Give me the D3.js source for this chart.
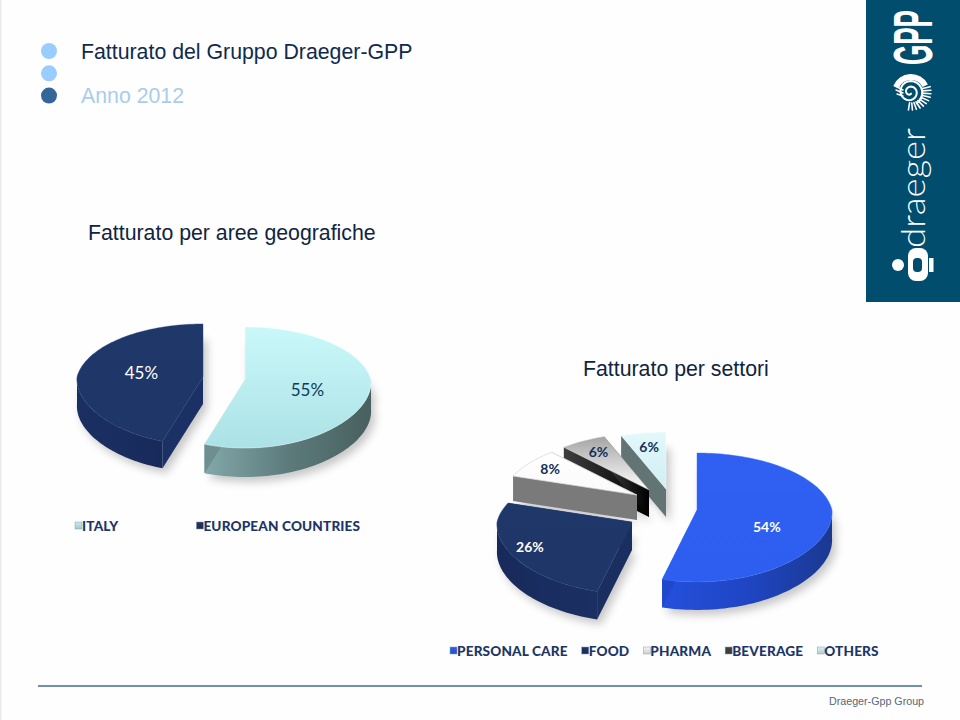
<!DOCTYPE html>
<html>
<head>
<meta charset="utf-8">
<script src="https://cdn.jsdelivr.net/npm/d3@7"></script>
<style>
  body { margin: 0; background: #fff; }
  text { font-family: "Liberation Sans", Arial, sans-serif; }
  .legend text { font-family: Lato, sans-serif; font-weight: 900; font-size: 13.6px; letter-spacing: .15px; fill: #1d3668; }
  .lab { font-family: Lato, sans-serif; text-anchor: middle; }
</style>
</head>
<body>
<svg id="chart" width="960" height="720"></svg>
<script>
var geoCategories = ["ITALY", "EUROPEAN COUNTRIES"];
var geoValues = [55, 45];
var sectorCategories = ["PERSONAL CARE", "FOOD", "PHARMA", "BEVERAGE", "OTHERS"];
var sectorValues = [54, 26, 8, 6, 6];

// colours: [top from, top to], [wall stops], side face, legend, label
var geoStyle = [
  { top: ["#caf8fa", "#abe2e5"], wall: ["#82a8a9", "#5d7b7c", "#48605f"], side: "#6f8e8f", label: "#0e3a5a", sw: "#c4eef2" },
  { top: ["#1e3868", "#1e3668"], wall: ["#1a2f62", "#1a2d60", "#172a5a"], side: "#1b3064", label: "#ffffff", sw: "#1d3668" }
];
var sectorStyle = [
  { top: ["#2f60f2", "#2e5ef0"], wall: ["#2450dc", "#1f45c4", "#1b3990"], side: "#2148cc", label: "#ffffff", sw: "#2e5ef0" },
  { top: ["#1e3868", "#1e3668"], wall: ["#172a5a", "#1a2d60", "#1a2f62"], side: "#1a2e60", label: "#ffffff", sw: "#1d3668" },
  { top: ["#ffffff", "#fafafc"], wall: ["#8b8b8b", "#7a7a7a", "#6e6e6e"], side: "#7a7a7a", label: "#10305a", sw: "#f6f6f6", edge: "#d4d4d4" },
  { top: ["#a4a4a4", "#ffffff"], wall: ["#3e3e3e", "#1c1c1c", "#000000"], side: "#222222", label: "#10305a", sw: "#444444" },
  { top: ["#e3f8fb", "#cfeef3"], wall: ["#7f8f8f", "#6b7b7b", "#5e6d6d"], side: "#637474", label: "#10305a", sw: "#d8f2f5" }
];

var svg = d3.select("#chart");
var defs = svg.append("defs");
defs.append("filter").attr("id", "blur").attr("x", "-20%").attr("y", "-20%").attr("width", "140%").attr("height", "140%")
  .append("feGaussianBlur").attr("stdDeviation", 4);

function gradient(id, stops, horizontal) {
  var g = defs.append("linearGradient").attr("id", id)
    .attr("x1", 0).attr("y1", 0).attr("x2", horizontal ? 1 : 0).attr("y2", horizontal ? 0 : 1);
  stops.forEach(function(c, i) {
    g.append("stop").attr("offset", i / (stops.length - 1)).attr("stop-color", c);
  });
  return "url(#" + id + ")";
}

// background
svg.append("rect").attr("width", 960).attr("height", 720).attr("fill", "#fefefe");
svg.append("rect").attr("width", 1.5).attr("height", 720).attr("fill", "#e9e9e9");

// header
var bullets = ["#99ccff", "#99ccff", "#336699"];
svg.selectAll(".bullet").data(bullets).enter().append("circle")
  .attr("cx", 49).attr("cy", function(d, i) { return 51 + i * 22.3; }).attr("r", 8).attr("fill", function(d) { return d; });
function label(x, y, size, fill, s) {
  return svg.append("text").attr("x", x).attr("y", y).attr("font-size", size).attr("fill", fill).text(s);
}
label(81, 59, 21.3, "#0f2a4f", "Fatturato del Gruppo Draeger-GPP");
label(81, 103, 21.3, "#a9cdec", "Anno 2012");
label(88, 240, 21.3, "#10243f", "Fatturato per aree geografiche");
label(583, 376, 21.3, "#10243f", "Fatturato per settori");

// footer
svg.append("line").attr("x1", 38).attr("x2", 922).attr("y1", 686).attr("y2", 686).attr("stroke", "#3f6d90").attr("stroke-width", 1.5);
label(829, 705, 10.7, "#55677a", "Draeger-Gpp Group");

var pieLayout = d3.pie().sort(null);
var line = d3.line();

function drawPie(cfg) {
  var arcs = pieLayout(cfg.values);
  var k = cfg.k, rx = cfg.rx, ry = cfg.ry;

  function project(c, a, r) {
    var u = r * Math.sin(a), v = -r * Math.cos(a), s = 1 / (1 - k * v);
    // the back of the disc narrows fully, the front hardly widens
    var sx = v < 0 ? s : 1 + (s - 1) * 0.3;
    return [c[0] + rx * u * sx, c[1] + ry * v * s];
  }
  function samples(a0, a1) {
    var n = Math.max(2, Math.ceil((a1 - a0) / 0.03));
    return d3.range(n + 1).map(function(i) { return a0 + (a1 - a0) * i / n; });
  }

  var shadows = svg.append("g").attr("opacity", cfg.shadow).attr("filter", "url(#blur)");
  var order = d3.range(arcs.length).sort(function(a, b) { return cfg.centers[a][1] - cfg.centers[b][1]; });

  order.forEach(function(i) {
    var d = arcs[i], c = cfg.centers[i], st = cfg.style[i], dp = cfg.depth[i];
    var rim = samples(d.startAngle, d.endAngle).map(function(a) { return project(c, a, 1); });
    var top = [c].concat(rim);

    shadows.append("path").attr("fill", "#555")
      .attr("d", line(top.map(function(p) { return [p[0] + 4, p[1] + dp + 5]; })) + "Z");
    // the back edges throw a soft shadow on the page as well
    shadows.append("path").attr("fill", "#555")
      .attr("d", line(top.map(function(p) { return [p[0] + 4, p[1] + dp * 0.6]; })) + "Z");

    var g = svg.append("g");

    // outer wall, only the part turned to the viewer
    var a0 = Math.max(d.startAngle, Math.PI / 2), a1 = Math.min(d.endAngle, Math.PI * 1.5);
    if (a1 > a0) {
      var front = samples(a0, a1).map(function(a) { return project(c, a, 1); });
      var low = front.map(function(p) { return [p[0], p[1] + dp]; }).reverse();
      g.append("path").attr("fill", gradient(cfg.id + "w" + i, st.wall, true))
        .attr("d", line(front.concat(low)) + "Z");
    }

    // the two cut faces
    [d.startAngle, d.endAngle].forEach(function(a, j) {
      var e = project(c, a, 1);
      g.append("path")
        .attr("fill", cfg.flatSide[i] ? st.side : gradient(cfg.id + "s" + i + j, [st.wall[0], st.wall[2]], true))
        .attr("d", line([c, e, [e[0], e[1] + dp], [c[0], c[1] + dp]]) + "Z");
    });

    // top
    g.append("path").attr("fill", gradient(cfg.id + "t" + i, st.top, false))
      .attr("stroke", st.edge || d3.color(st.top[0]).brighter(0.5)).attr("stroke-width", 0.7).attr("stroke-opacity", st.edge ? 1 : 0.6)
      .attr("d", line(top) + "Z");
  });

  // value labels
  arcs.forEach(function(d, i) {
    var mid = (d.startAngle + d.endAngle) / 2, p = project(cfg.centers[i], mid, cfg.labelR[i]);
    svg.append("text").attr("class", "lab").attr("x", p[0]).attr("y", p[1] + cfg.labelDy[i])
      .attr("font-size", cfg.labelSize).attr("font-weight", cfg.labelWeight).attr("fill", cfg.style[i].label)
      .text(d.value + "%");
  });

  // legend, each entry starts where the last one ended
  var lg = svg.append("g").attr("class", "legend");
  var x = cfg.legendX;
  cfg.names.forEach(function(name, i) {
    lg.append("rect").attr("x", x).attr("y", cfg.legendY - 9).attr("width", 7).attr("height", 7)
      .attr("fill", gradient(cfg.id + "k" + i, [cfg.style[i].sw, d3.color(cfg.style[i].sw).darker(0.5)], false))
      .attr("stroke", "#8aa0b0").attr("stroke-width", 0.5);
    var t = lg.append("text").attr("x", x + 7).attr("y", cfg.legendY).text(name);
    x += 7 + t.node().getComputedTextLength() + cfg.legendGap;
  });
}

drawPie({
  id: "geo", values: geoValues, names: geoCategories, style: geoStyle,
  centers: [[245, 380], [203, 377]], depth: [29, 27],
  k: 0.124, rx: 126, ry: 59.6, shadow: 0.32,
  flatSide: [true, true],
  labelR: [0.5, 0.5], labelDy: [11, 7], labelSize: 17, labelWeight: 400,
  legendX: 75, legendY: 531, legendGap: 78
});

drawPie({
  id: "sec", values: sectorValues, names: sectorCategories, style: sectorStyle,
  centers: [[697, 510], [632, 522], [637, 495], [649, 490], [666, 489]], depth: [28, 28, 25, 27, 28],
  k: 0.116, rx: 135, ry: 63.6, shadow: 0.32,
  flatSide: [true, true, true, false, true],
  labelR: [0.52, 0.85, 0.8, 0.75, 0.72], labelDy: [18, 3, 5, 5, 5], labelSize: 14, labelWeight: 700,
  legendX: 450, legendY: 656, legendGap: 14
});

// logo panel
var logo = svg.append("g");
logo.append("rect").attr("x", 866).attr("y", 0).attr("width", 94).attr("height", 302).attr("fill", "#004d6e");
logo.append("text").attr("transform", "translate(932,65) rotate(-90) scale(0.465,1)")
  .attr("font-size", 56).attr("font-weight", 700).attr("fill", "#fff").text("GPP");
logo.append("text").attr("transform", "translate(925,248) rotate(-90)")
  .attr("font-size", 33).attr("font-weight", 300).attr("fill", "#fff").style("font-family", "Lato, sans-serif")
  .attr("textLength", 120).attr("lengthAdjust", "spacingAndGlyphs").text("draeger");

// shell mark
var shell = logo.append("g").attr("fill", "none").attr("stroke", "#fff").attr("stroke-linecap", "round");
var spiral = d3.range(0, 46).map(function(i) {
  var a = i * 0.28 + 1, r = 2 + i * 0.25;
  return [910 + r * Math.cos(a), 92 + r * Math.sin(a)];
});
shell.append("path").attr("stroke-width", 2).attr("d", line(spiral));
logo.append("path").attr("fill", "#fff").attr("transform", "translate(911,93)")
  .attr("d", d3.arc()({ innerRadius: 13, outerRadius: 19, startAngle: -1.2, endAngle: 1.1 }));
d3.range(11).forEach(function(i) {
  var a = -0.3 + i * 0.2;
  shell.append("line").attr("stroke-width", 1.6)
    .attr("x1", 911 + 11 * Math.cos(a)).attr("y1", 92 + 11 * Math.sin(a))
    .attr("x2", 911 + 20 * Math.cos(a)).attr("y2", 92 + 18 * Math.sin(a));
});
d3.range(3).forEach(function(i) {
  shell.append("line").attr("stroke-width", 1.4)
    .attr("x1", 895 + i).attr("y1", 86 + i * 4).attr("x2", 903).attr("y2", 90 + i * 3);
});

// bottle mark
logo.append("circle").attr("cx", 898).attr("cy", 265).attr("r", 6).attr("fill", "#fff");
logo.append("rect").attr("x", 908).attr("y", 248).attr("width", 20).attr("height", 33).attr("rx", 8).attr("fill", "#fff");
logo.append("rect").attr("x", 913).attr("y", 258).attr("width", 9).attr("height", 14).attr("rx", 4).attr("fill", "#004d6e");
logo.append("rect").attr("x", 929).attr("y", 258).attr("width", 4.5).attr("height", 14).attr("fill", "#fff");
</script>
</body>
</html>
